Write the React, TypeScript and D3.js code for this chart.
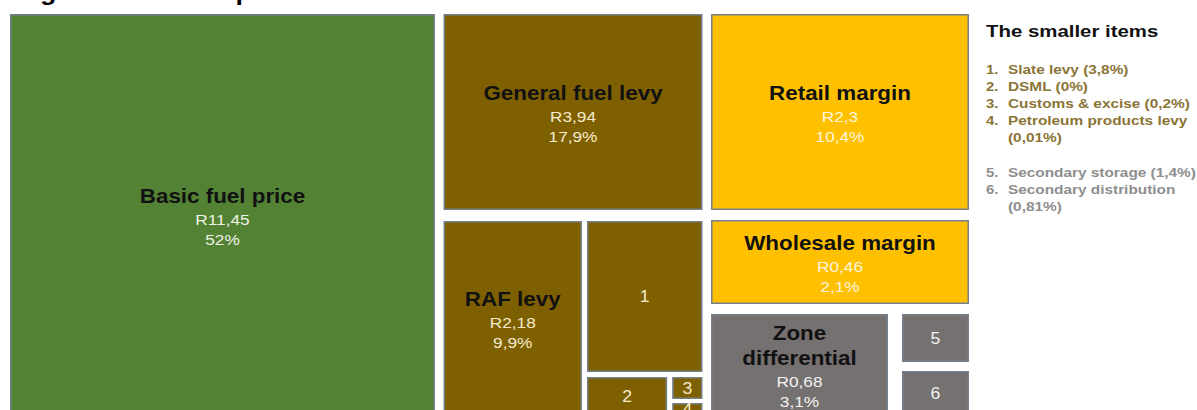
import React from "react";
import * as d3 from "d3";

// ---------- data ----------
const categories = [
  "Basic fuel price",
  "General fuel levy",
  "RAF levy",
  "Slate levy",
  "DSML",
  "Customs & excise",
  "Petroleum products levy",
  "Retail margin",
  "Wholesale margin",
  "Zone differential",
  "Secondary storage",
  "Secondary distribution",
];
const randValues = ["R11,45", "R3,94", "R2,18", "", "", "", "", "R2,3", "R0,46", "R0,68", "", ""];
const shares = ["52%", "17,9%", "9,9%", "3,8%", "0%", "0,2%", "0,01%", "10,4%", "2,1%", "3,1%", "1,4%", "0,81%"];
const groups = ["basic", "levy", "levy", "levy", "levy", "levy", "levy", "margin", "margin", "other", "other", "other"];
const smallNumbers = [0, 0, 0, 1, 2, 3, 4, 0, 0, 0, 5, 6];
const titleText = "Figure 10: Petrol price breakdown";
const legendTitle = "The smaller items";

// ---------- styles ----------
const FILL: Record<string, string> = { basic: "#548235", levy: "#7f6000", margin: "#ffc000", other: "#767171" };
const VALUE_INK: Record<string, string> = { basic: "#eef3e4", levy: "#f4ebcc", margin: "#fff6dc", other: "#f2f2f2" };
const LEGEND_INK: Record<string, string> = { levy: "#8a7536", other: "#8e8e8e" };
const FONT = "'Liberation Sans', Arial, Helvetica, sans-serif";

// ---------- layout spec (relative weights of the hand-made treemap) ----------
type Spec = { id?: number; dir?: "h" | "v"; gap?: number; w: number; children?: Spec[] };
const LAYOUT: Spec = {
  dir: "h", gap: 8.5, w: 1, children: [
    { id: 0, w: 425 },
    { dir: "v", gap: 11, w: 259, children: [
      { id: 1, w: 196 },
      { dir: "h", gap: 5, w: 194, children: [
        { id: 2, w: 139 },
        { dir: "v", gap: 5, w: 116, children: [
          { id: 3, w: 151 },
          { dir: "h", gap: 5, w: 38, children: [
            { id: 4, w: 82 },
            { dir: "v", gap: 4, w: 31, children: [{ id: 5, w: 22 }, { id: 6, w: 12 }] },
          ] },
        ] },
      ] },
    ] },
    { dir: "v", gap: 10, w: 258, children: [
      { id: 7, w: 196 },
      { id: 8, w: 84 },
      { dir: "h", gap: 14, w: 101, children: [
        { id: 9, w: 177 },
        { dir: "v", gap: 9, w: 67, children: [{ id: 10, w: 48 }, { id: 11, w: 44 }] },
      ] },
    ] },
  ],
};

const W = 1197, H = 410;
const M = { left: 10, top: 14 };
const TREE_W = 959, TREE_H = 401;

function tile(node: any, x0: number, y0: number, x1: number, y1: number) {
  const spec = node.data as Spec;
  const kids = node.children as any[];
  const gap = spec.gap ?? 0;
  const total = d3.sum(kids, (k: any) => k.data.w);
  if (spec.dir === "h") {
    const avail = x1 - x0 - kids.length * gap;
    let c = x0;
    kids.forEach((k) => {
      const len = (k.data.w / total) * avail + gap;
      k.x0 = c; k.x1 = c + len; k.y0 = y0; k.y1 = y1; c += len;
    });
  } else {
    const avail = y1 - y0 - kids.length * gap;
    let c = y0;
    kids.forEach((k) => {
      const len = (k.data.w / total) * avail + gap;
      k.y0 = c; k.y1 = c + len; k.x0 = x0; k.x1 = x1; c += len;
    });
  }
}

function wrap(label: string, maxW: number, px: number): string[] {
  const words = label.split(" ");
  const lines: string[] = [];
  let cur = "";
  words.forEach((w) => {
    const t = cur ? cur + " " + w : w;
    if (cur && t.length * px > maxW) { lines.push(cur); cur = w; } else cur = t;
  });
  if (cur) lines.push(cur);
  return lines;
}

function Txt(p: { x: number; y: number; size: number; sx: number; bold?: boolean; fill: string; anchor?: string; children: any }) {
  return (
    <text
      transform={`translate(${p.x},${p.y}) scale(${p.sx},1)`}
      fontSize={p.size}
      fontWeight={p.bold ? "bold" : "normal"}
      fill={p.fill}
      textAnchor={p.anchor ?? "middle"}
      fontFamily={FONT}
    >
      {p.children}
    </text>
  );
}

export default function App() {
  const root = d3.hierarchy<Spec>(LAYOUT, (d) => d.children);
  d3.treemap<Spec>()
    .size([TREE_W, TREE_H])
    .paddingInner((n: any) => n.data.gap ?? 0)
    .tile(tile as any)(root as any);
  const leaves = root.leaves() as any[];

  const LABEL = 20, LSX = 1.12, VALUE = 15, VSX = 1.15;

  // legend lines
  const legendLines: { num: string; text: string; y: number; ink: string }[] = [];
  let ly = 74;
  let prevGroup = "";
  categories.forEach((c, i) => {
    if (!smallNumbers[i]) return;
    if (prevGroup && prevGroup !== groups[i]) ly += 18;
    prevGroup = groups[i];
    const full = `${c} (${shares[i]})`;
    const parts = full.length > 24 ? [c, `(${shares[i]})`] : [full];
    parts.forEach((t, k) => {
      legendLines.push({ num: k === 0 ? `${smallNumbers[i]}.` : "", text: t, y: ly, ink: LEGEND_INK[groups[i]] });
      ly += 17;
    });
  });

  return (
    <svg width={W} height={H} style={{ position: "absolute", left: 0, top: 0, background: "#ffffff" }}>
      <rect width={W} height={H} fill="#ffffff" />
      <Txt x={16} y={0} size={24} sx={1.12} bold fill="#000" anchor="start">{titleText}</Txt>
      <g transform={`translate(${M.left},${M.top})`}>
        {leaves.map((n) => {
          const i = n.data.id as number;
          const g = groups[i];
          const w = n.x1 - n.x0, h = n.y1 - n.y0;
          const cx = (n.x0 + n.x1) / 2, cy = (n.y0 + n.y1) / 2;
          let content: any;
          if (smallNumbers[i]) {
            content = (
              <Txt x={cx} y={cy + 5.5} size={16} sx={1.1} fill={VALUE_INK[g]}>{String(smallNumbers[i])}</Txt>
            );
          } else {
            const lines = wrap(categories[i], w - 20, LABEL * 0.6 * LSX);
            const blockH = 25 * (lines.length - 1) + 57;
            const b = cy + 16.5 - blockH / 2;
            const last = b + 25 * (lines.length - 1);
            content = (
              <g>
                {lines.map((t, k) => (
                  <Txt key={k} x={cx} y={b + 25 * k} size={LABEL} sx={LSX} bold fill="#111">{t}</Txt>
                ))}
                <Txt x={cx} y={last + 22} size={VALUE} sx={VSX} fill={VALUE_INK[g]}>{randValues[i]}</Txt>
                <Txt x={cx} y={last + 42} size={VALUE} sx={VSX} fill={VALUE_INK[g]}>{shares[i]}</Txt>
              </g>
            );
          }
          return (
            <g key={i}>
              <rect x={n.x0 + 0.75} y={n.y0 + 0.75} width={Math.max(0, w - 1.5)} height={Math.max(0, h - 1.5)}
                fill={FILL[g]} stroke="#74808e" strokeWidth={1.5} />
              {content}
            </g>
          );
        })}
      </g>
      <g>
        <Txt x={986} y={37} size={17} sx={1.2} bold fill="#111" anchor="start">{legendTitle}</Txt>
        {legendLines.map((l, k) => (
          <g key={k}>
            {l.num && <Txt x={986} y={l.y} size={12.5} sx={1.2} bold fill={l.ink} anchor="start">{l.num}</Txt>}
            <Txt x={1008} y={l.y} size={12.5} sx={1.23} bold fill={l.ink} anchor="start">{l.text}</Txt>
          </g>
        ))}
      </g>
    </svg>
  );
}
